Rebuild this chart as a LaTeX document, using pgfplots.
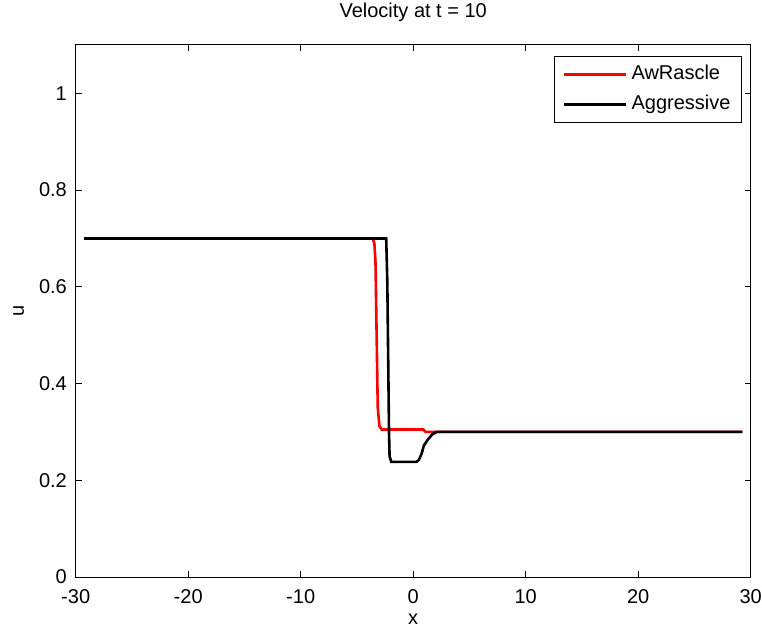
\documentclass[border=0pt]{standalone}
\usepackage{fontspec}
\setmainfont{Liberation Sans}
\usepackage{pgfplots}
\pgfplotsset{compat=1.18}
\usetikzlibrary{calc}
\begin{document}
\fontsize{10bp}{12bp}\selectfont
\begin{tikzpicture}[font=\fontsize{10bp}{12bp}\selectfont]
\begin{axis}[name=ax, scale only axis, width=337.5bp, height=266bp,
 xmin=-30, xmax=30, ymin=0, ymax=1.1,
 xtick={-30,-20,-10,0,10,20,30}, xticklabels={-30,-20,-10,0,10,20,30},
 ytick={0,0.2,0.4,0.6,0.8,1}, yticklabels={0,0.2,0.4,0.6,0.8,1},
 tick align=inside, major tick length=3bp,
 axis line style={line width=0.5bp},
 every tick/.style={line width=0.5bp, black},
 yticklabel style={xshift=-0.9bp},
 xticklabel style={yshift=-2.6bp},
 xlabel={x}, ylabel={u},
 xlabel style={at={(rel axis cs:0.5,0)}, anchor=center, yshift=-21.3bp, inner sep=0pt},
 ylabel style={at={(rel axis cs:0,0.5)}, anchor=center, yshift=28.5bp},
 title={Velocity at t = 10},
 title style={at={(rel axis cs:0.5,1)}, anchor=base, yshift=7.8bp, inner sep=0pt},
 legend image code/.code={\draw[#1] (0bp,0bp) -- (31bp,0bp);},
 legend cell align=left,
 legend style={at={(rel axis cs:1,1)}, anchor=north east, xshift=-4.35bp, yshift=-5.5bp,
   draw=black, line width=0.5bp, inner xsep=4bp, inner ysep=2.5bp,
   row sep=2bp, column sep=0.5bp,
   nodes={inner sep=1.5bp, text height=7.5bp, text depth=2.5bp, font=\fontsize{10bp}{12bp}\selectfont}},
]
\addplot[red, line width=1.3bp] coordinates {
(-29.25,0.7) (-3.6,0.7) (-3.45,0.69) (-3.35,0.65) (-3.25,0.5) (-3.15,0.35) (-3.0,0.312) (-2.8,0.305) (0.9,0.305) (1.1,0.3) (29.25,0.3)};
\addlegendentry{AwRascle}
\addplot[black, line width=1.3bp] coordinates {
(-29.25,0.7) (-2.4,0.7) (-2.3,0.61) (-2.15,0.3) (-2.1,0.25) (-1.95,0.238) (0.3,0.238) (0.5,0.242) (0.75,0.255) (0.95,0.272) (1.3,0.284) (1.7,0.295) (2.1,0.3) (29.25,0.3)};
\addlegendentry{Aggressive}
\end{axis}
\pgfresetboundingbox
\path ($(ax.south west)+(-37.85bp,-25.5bp)$) rectangle ($(ax.north east)+(5.65bp,22.5bp)$);
\end{tikzpicture}
\end{document}
